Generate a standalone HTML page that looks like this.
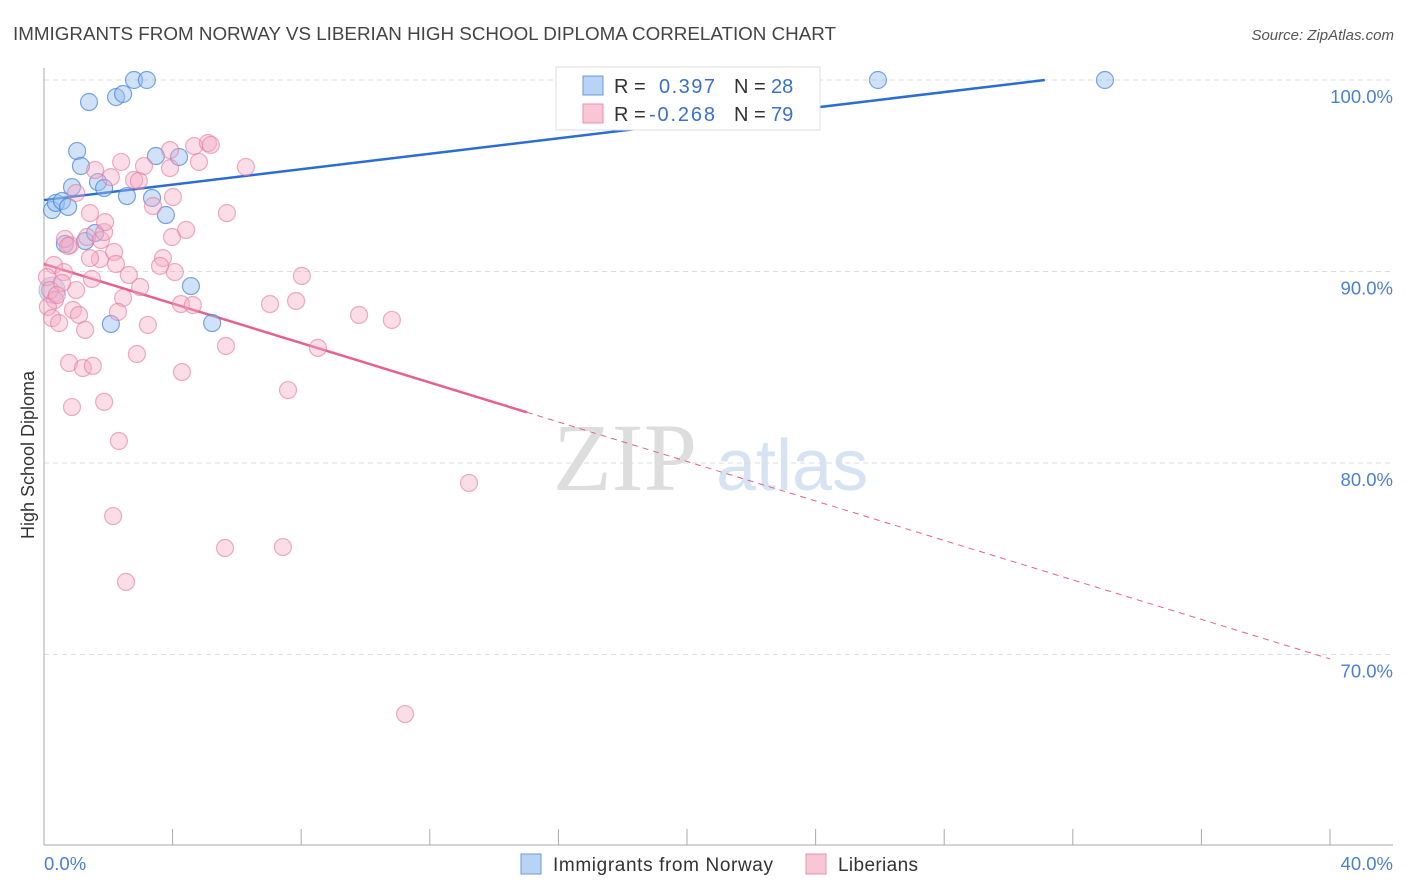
<!DOCTYPE html>
<html><head><meta charset="utf-8"><style>
body{margin:0;background:#fff;font-family:"Liberation Sans",sans-serif;}
svg{display:block}
</style></head><body>
<svg id="chart" width="1406" height="892" xmlns="http://www.w3.org/2000/svg">
<text x="13" y="40" font-size="18" fill="#444" textLength="823" lengthAdjust="spacingAndGlyphs">IMMIGRANTS FROM NORWAY VS LIBERIAN HIGH SCHOOL DIPLOMA CORRELATION CHART</text>
<text x="1394" y="40" font-size="15" fill="#555" font-style="italic" text-anchor="end">Source: ZipAtlas.com</text>
<g><text x="553" y="490" font-size="96" fill="#ddd" font-family="Liberation Serif,serif">ZIP</text><text x="716" y="490" font-size="72" fill="#d6e3f3">atlas</text></g>
<g id="grid"></g><g id="axes"></g><g id="trend"></g><g id="pts"></g>
<text transform="translate(34,455) rotate(-90)" font-size="18" fill="#333" text-anchor="middle">High School Diploma</text>
<g>
<rect x="556" y="67" width="264" height="63" fill="#fff" stroke="#ddd"/>
<rect x="583" y="76" width="20" height="19" fill="#b9d3f4" stroke="#6a9ad8"/>
<rect x="583" y="104" width="20" height="19" fill="#f9c6d5" stroke="#e891ad"/>
<text x="614" y="93" font-size="20" fill="#333">R = </text><text x="659" y="93" font-size="20" fill="#3a70cc" textLength="56">0.397</text>
<text x="734" y="93" font-size="20" fill="#333">N = </text><text x="771" y="93" font-size="20" fill="#3a70cc">28</text>
<text x="614" y="121" font-size="20" fill="#333">R = </text><text x="649" y="121" font-size="20" fill="#3a70cc" textLength="66">-0.268</text>
<text x="734" y="121" font-size="20" fill="#333">N = </text><text x="771" y="121" font-size="20" fill="#3a70cc">79</text>
</g>
<g>
<rect x="521" y="854" width="20" height="20" fill="#b9d3f4" stroke="#6a9ad8"/>
<text x="553" y="871" font-size="19" fill="#333" textLength="220">Immigrants from Norway</text>
<rect x="806" y="854" width="20" height="20" fill="#f9c6d5" stroke="#e891ad"/>
<text x="838" y="871" font-size="19" fill="#333" textLength="80">Liberians</text>
</g>
</svg>
<script>
const yTicks=[100,90,80,70];
const yTickLabels=["100.0%","90.0%","80.0%","70.0%"];
const xTickLabels=["0.0%","40.0%"];
const blueX=[2.80,3.20,25.94,33.0,1.40,2.24,2.46,1.03,1.15,3.48,4.20,0.87,1.68,1.87,2.58,3.36,0.25,0.37,0.56,0.75,3.79,0.65,1.28,1.59,4.57,2.08,5.23,0.25];
const blueY=[100,100,100,100,98.85,99.11,99.27,96.29,95.51,96.03,95.98,94.41,94.67,94.36,93.94,93.84,93.21,93.58,93.68,93.37,92.95,91.44,91.59,92.01,89.24,87.26,87.31,89.03];
const pinkX=[.31,.09,.62,.19,.34,.12,.25,.47,.90,1.09,1.28,1.0,1.49,1.74,2.18,1.43,.81,1.34,1.77,1.87,2.24,2.46,2.64,2.30,2.99,3.23,2.89,.78,1.21,1.52,.87,1.87,2.33,2.15,2.55,3.70,4.07,3.61,3.98,4.42,4.26,4.63,4.29,5.66,5.63,7.43,7.03,7.84,8.02,8.52,7.59,9.80,10.82,13.22,11.23,1.0,1.59,2.40,2.08,2.80,2.95,3.11,3.92,4.67,5.10,5.19,6.28,4.82,4.01,3.39,5.69,1.90,1.43,.65,.56,.40,.75,3.92];
const pinkY=[90.34,89.71,89.97,89.03,88.51,88.15,87.57,87.31,87.99,87.73,86.95,89.03,89.61,90.65,91.02,90.70,91.38,91.80,91.64,92.06,90.39,88.62,89.82,87.89,89.19,87.21,85.69,85.22,84.96,85.07,82.92,83.19,81.15,77.23,73.79,90.70,89.97,90.29,91.80,92.17,88.30,88.25,84.75,86.11,75.56,75.61,88.30,88.46,89.77,86.01,83.81,87.73,87.47,78.96,66.89,94.10,95.30,95.72,94.93,94.78,94.73,95.51,96.34,96.55,96.71,96.61,95.46,95.72,93.89,93.42,93.05,92.58,93.05,91.70,89.40,88.77,91.33,95.40];
const blueTrend=[0,93.73,31.13,100];
const pinkTrend=[0,90.39,40,69.77];
const pinkSolidEnd=15.02;
const NS="http://www.w3.org/2000/svg";
const X=v=>44+v*32.15, Y=v=>80+(100-v)*19.15;
function mk(t,a,p){const e=document.createElementNS(NS,t);for(const k in a)e.setAttribute(k,a[k]);p.appendChild(e);return e;}
const grid=document.getElementById('grid'),axes=document.getElementById('axes');
yTicks.forEach((t,i)=>{
 const l=mk('line',{x1:44,x2:1393,y1:Y(t),y2:Y(t),stroke:'#ddd','stroke-dasharray':'5,4'},grid);
 
 
 const tx=mk('text',{x:1393,y:Y(t)+23,'font-size':18.5,fill:'#4a7fd4','text-anchor':'end'},axes);
 tx.textContent=yTickLabels[i];
 
 
});
const ya=mk('line',{x1:44,x2:44,y1:68,y2:845,stroke:'#aaa'},axes);


const xa=mk('line',{x1:44,x2:1393,y1:845,y2:845,stroke:'#aaa'},axes);


for(let i=1;i<=10;i++){const t=mk('line',{x1:X(i*4),x2:X(i*4),y1:829,y2:845,stroke:'#aaa'},axes);
 
 }
[[0,'start',44],[40,'end',1393]].forEach((d,i)=>{const t=mk('text',{x:d[2],y:870,'font-size':18.5,fill:'#4a7fd4','text-anchor':d[1]},axes);t.textContent=xTickLabels[i];
 
 });
const pts=document.getElementById('pts');
blueX.forEach((x,i)=>{const c=mk('circle',{cx:X(x),cy:Y(blueY[i]),r:i==27?13:8.5,fill:i==27?'rgba(150,170,220,0.35)':'rgba(150,190,240,0.45)',stroke:i==27?'rgba(150,150,210,0.5)':'rgba(70,130,215,0.7)','stroke-width':1.2},pts);
 
 });
pinkX.forEach((x,i)=>{const c=mk('circle',{cx:X(x),cy:Y(pinkY[i]),r:8.5,fill:'rgba(246,170,195,0.4)',stroke:'rgba(230,120,155,0.6)','stroke-width':1.2},pts);
 
 });
const tr=document.getElementById('trend');
const bt=mk('line',{x1:X(blueTrend[0]),y1:Y(blueTrend[1]),x2:X(blueTrend[2]),y2:Y(blueTrend[3]),stroke:'#2a6dd3','stroke-width':2.5},tr);


const pf=v=>pinkTrend[1]+(pinkTrend[3]-pinkTrend[1])*(v-pinkTrend[0])/(pinkTrend[2]-pinkTrend[0]);
const ps=mk('line',{x1:X(pinkTrend[0]),y1:Y(pinkTrend[1]),x2:X(pinkSolidEnd),y2:Y(pf(pinkSolidEnd)),stroke:'#e8608c','stroke-width':2.5},tr);


const pd=mk('line',{x1:X(pinkSolidEnd),y1:Y(pf(pinkSolidEnd)),x2:X(pinkTrend[2]),y2:Y(pinkTrend[3]),stroke:'#e8608c','stroke-width':1,'stroke-dasharray':'6,5'},tr);


</script>
</body></html>
